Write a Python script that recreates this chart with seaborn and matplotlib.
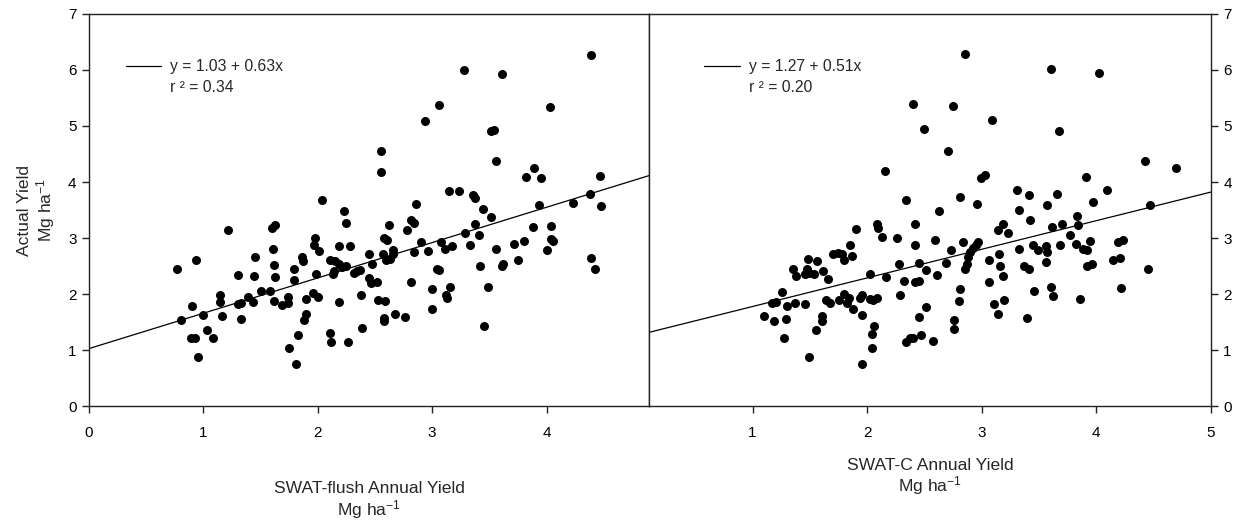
import numpy as np
import pandas as pd
import matplotlib
matplotlib.use("Agg")
import matplotlib.pyplot as plt
import seaborn as sns
from matplotlib.lines import Line2D

# ---------------- data ----------------
flush_x = [0.769, 0.804, 0.932, 0.900, 0.894, 0.926, 0.952, 1.001, 1.033, 1.083,
           1.147, 1.147, 1.161, 1.219, 1.300, 1.300, 1.329, 1.332, 1.393, 1.431,
           1.440, 1.451, 1.504, 1.579, 1.597, 1.626, 1.611, 1.620, 1.628, 1.620,
           1.684, 1.736, 1.742, 1.747, 1.794, 1.788, 1.829, 1.808, 1.866, 1.875,
           1.893, 1.898, 1.884, 1.977, 1.968, 2.009, 1.988, 1.956, 2.000, 2.035,
           2.104, 2.148, 2.183, 2.212, 2.250, 2.134, 2.139, 2.107, 2.116, 2.186,
           2.186, 2.229, 2.250, 2.284, 2.264, 2.320, 2.345, 2.370, 2.377, 2.389,
           2.447, 2.470, 2.450, 2.464, 2.517, 2.528,
           2.557, 2.557, 2.592, 2.575, 2.583, 2.572, 2.595, 2.633, 2.583, 2.604,
           2.621, 2.656, 2.662, 2.673, 2.766, 2.784, 2.813, 2.845, 2.813, 2.839,
           2.862, 2.903, 2.935, 2.961, 2.996, 2.996, 3.042, 3.059, 3.062, 3.074,
           3.109, 3.121, 3.126, 3.149, 3.152, 3.176, 3.231, 3.280, 3.283, 3.332,
           3.359, 3.373, 3.373, 3.411, 3.422, 3.443, 3.451, 3.492, 3.513, 3.518,
           3.544, 3.562, 3.562, 3.611, 3.614, 3.622, 3.713, 3.750, 3.800, 3.820,
           3.881, 3.887, 3.930, 3.951, 4.000, 4.029, 4.038, 4.038, 4.055, 4.229,
           4.377, 4.389, 4.389, 4.427, 4.467, 4.476]
flush_y = [2.457, 1.539, 2.611, 1.788, 1.226, 1.226, 0.888, 1.628, 1.356, 1.214,
           1.989, 1.859, 1.616, 3.144, 2.339, 1.829, 1.835, 1.563, 1.954, 1.853,
           2.327, 2.670, 2.054, 2.054, 3.185, 3.239, 2.812, 2.528, 2.303, 1.877,
           1.800, 1.954, 1.835, 1.048, 2.451, 2.250, 1.279, 0.758, 2.664, 2.593,
           1.918, 1.640, 1.539, 3.002, 2.872, 2.765, 2.356, 2.013, 1.954, 3.677,
           2.611, 2.593, 2.545, 2.486, 2.504, 2.351, 2.422, 1.303, 1.155, 2.858,
           1.859, 3.475, 3.262, 2.860, 1.143, 2.380, 2.410, 2.430, 1.989, 1.391,
           2.718, 2.540, 2.297, 2.202, 2.214, 1.901,
           4.553, 4.186, 1.883, 1.570, 1.530, 2.712, 2.605, 2.635, 3.008, 2.972,
           3.227, 2.795, 2.723, 1.646, 1.587, 3.138, 3.327, 3.268, 2.220, 2.752,
           3.612, 2.931, 5.092, 2.771, 2.090, 1.735, 2.451, 2.433, 5.370, 2.931,
           2.806, 1.983, 1.936, 3.848, 2.131, 2.866, 3.848, 5.992, 3.097, 2.871,
           3.771, 3.718, 3.244, 3.049, 2.499, 3.511, 1.439, 2.120, 3.381, 4.908,
           4.920, 4.369, 2.800, 5.932, 2.504, 2.546, 2.889, 2.611, 2.954, 4.085,
           3.191, 4.245, 3.594, 4.079, 2.795, 5.346, 3.221, 2.984, 2.943, 3.629,
           3.783, 6.264, 2.652, 2.445, 4.115, 3.576]

swatc_x = [2.398, 2.497, 2.156, 2.340,
           2.855, 3.606, 4.025, 2.753, 3.094, 3.676, 2.707, 2.995, 3.030, 3.915,
           4.427, 4.695, 2.814, 2.957, 3.306, 3.414, 3.656, 3.574, 4.095, 3.973,
           4.474, 2.625, 3.324,
           1.903, 2.086, 2.095, 2.127, 2.258, 2.416, 2.418, 1.848, 1.865, 1.706,
           1.743, 1.778, 1.798, 1.484, 1.565, 1.356, 1.376, 1.472, 1.492, 1.539,
           1.460, 1.618, 1.656, 1.254, 1.167, 1.202, 1.300, 1.368, 1.455, 1.100,
           1.190, 1.289, 1.277, 1.495, 1.557, 1.609, 1.606, 1.638, 1.676, 1.757,
           1.801, 1.842, 1.822, 1.877, 1.938, 1.953, 1.955, 1.955, 2.025, 2.025,
           2.054, 2.089, 2.058, 2.046, 2.046, 2.165, 2.276, 2.325, 2.285, 2.418,
           2.456, 2.456, 2.514, 2.512, 2.456, 2.340, 2.375, 2.404, 2.471, 2.575,
           2.596, 2.613, 2.686, 2.730, 2.835, 2.855, 2.875, 2.878, 2.899, 2.922,
           2.948, 2.969, 2.814, 2.800, 2.756, 2.756, 3.067, 3.149, 3.163, 3.187,
           3.067, 3.146, 3.187, 3.228, 3.108, 3.198, 3.146, 3.327, 3.423, 3.370,
           3.414, 3.394, 3.455, 3.446, 3.490, 3.565, 3.574, 3.565, 3.609, 3.626,
           3.618, 3.700, 3.685, 3.772, 3.830, 3.839, 3.822, 3.883, 3.921, 3.944,
           3.857, 3.923, 3.967, 4.145, 4.206, 4.191, 4.238, 4.215, 4.453]
swatc_y = [5.389, 4.937, 4.198, 3.675,
           6.282, 6.009, 5.948, 5.359, 5.098, 4.913, 4.562, 4.080, 4.121, 4.086,
           4.383, 4.252, 3.734, 3.616, 3.859, 3.770, 3.788, 3.598, 3.859, 3.639,
           3.586, 3.490, 3.510,
           3.157, 3.244, 3.180, 3.014, 3.009, 3.259, 2.871, 2.884, 2.675, 2.716,
           2.741, 2.723, 2.604, 2.621, 2.591, 2.443, 2.323, 2.455, 2.377, 2.354,
           2.366, 2.413, 2.277, 2.045, 1.842, 1.854, 1.782, 1.848, 1.818, 1.604,
           1.527, 1.556, 1.217, 0.877, 1.354, 1.616, 1.527, 1.889, 1.848, 1.901,
           1.996, 1.937, 1.842, 1.735, 1.937, 1.979, 1.627, 0.746, 2.366, 1.919,
           1.889, 1.937, 1.425, 1.282, 1.038, 2.300, 2.538, 2.241, 1.984, 2.216,
           2.229, 2.556, 2.425, 1.777, 1.592, 1.145, 1.217, 1.211, 1.264, 1.157,
           2.961, 2.348, 2.562, 2.782, 2.925, 2.443, 2.532, 2.663, 2.752, 2.830,
           2.884, 2.925, 2.086, 1.871, 1.532, 1.384, 2.616, 2.723, 2.502, 2.330,
           2.223, 3.139, 3.259, 3.098, 1.818, 1.889, 1.639, 2.800, 3.318, 2.496,
           2.455, 1.580, 2.050, 2.884, 2.782, 2.859, 2.752, 2.574, 2.127, 1.966,
           3.198, 3.246, 2.871, 3.050, 3.389, 3.229, 2.902, 2.813, 2.795, 2.948,
           1.919, 2.509, 2.545, 2.604, 2.652, 2.930, 2.973, 2.109, 2.448]

fit_intercept = [1.03, 1.27]
fit_slope = [0.63, 0.51]
fit_r2 = ["0.34", "0.20"]
x_titles = ["SWAT-flush Annual Yield", "SWAT-C Annual Yield"]
y_title = "Actual Yield"
unit_label = "Mg ha$^{-1}$"
left_xticks = [0, 1, 2, 3, 4]
right_xticks = [1, 2, 3, 4, 5]
y_ticks = [0, 1, 2, 3, 4, 5, 6, 7]

df_flush = pd.DataFrame({"sim": flush_x, "obs": flush_y})
df_swatc = pd.DataFrame({"sim": swatc_x, "obs": swatc_y})

# ---------------- style ----------------
sns.set_theme(style="ticks")
plt.rcParams["font.family"] = ["Liberation Sans", "DejaVu Sans"]
plt.rcParams["mathtext.fontset"] = "custom"
plt.rcParams["mathtext.rm"] = "Liberation Sans"
plt.rcParams["mathtext.it"] = "Liberation Sans:italic"
plt.rcParams["mathtext.default"] = "regular"

FS = 11        # tick labels
LFS = 11.3     # legend text
AFS = 12.6     # axis titles
SPC = "#222222"

fig = plt.figure(figsize=(12.43, 5.23), dpi=100)
ax1 = fig.add_axes([0.0716, 0.2231, 0.4509, 0.7505])
ax2 = fig.add_axes([0.5225, 0.2231, 0.4515, 0.7505])

panels = [(ax1, df_flush, (0, 4.9), left_xticks, 0.0655, 30),
          (ax2, df_swatc, (0.1, 5.0), right_xticks, 0.0977, 13)]

for i, (ax, df, xl, xt, legx, lpad) in enumerate(panels):
    sns.scatterplot(data=df, x="sim", y="obs", ax=ax, color="black", s=42,
                    linewidth=0, zorder=3)
    ax.axline((0, fit_intercept[i]), slope=fit_slope[i], color="black",
              lw=0.9, zorder=2)
    ax.set_xlim(*xl)
    ax.set_ylim(0, 7)
    ax.set_xticks(xt)
    ax.set_yticks(y_ticks)
    for sp in ax.spines.values():
        sp.set_visible(True)
        sp.set_color(SPC)
        sp.set_linewidth(1.0)
    ax.tick_params(axis="x", length=5, width=1, pad=9, labelsize=FS, colors=SPC,
                   labelcolor="black")
    ax.tick_params(axis="y", length=5, width=1, pad=4, labelsize=FS, colors=SPC,
                   labelcolor="black")
    ax.set_xlabel(x_titles[i] + "\n" + unit_label, fontsize=AFS, labelpad=lpad,
                  linespacing=1.1)
    handles = [Line2D([], [], color="black", lw=0.9),
               Line2D([], [], color="none", lw=0)]
    labels = ["y = %.2f + %.2fx" % (fit_intercept[i], fit_slope[i]),
              "r \u00b2 = " + fit_r2[i]]
    ax.legend(handles, labels, loc="upper left", bbox_to_anchor=(legx, 0.884),
              frameon=False, borderpad=0, borderaxespad=0, handlelength=2.25,
              handletextpad=0.6, labelspacing=0.38, fontsize=LFS)

ax1.set_ylabel(y_title + "\n" + unit_label, fontsize=AFS, labelpad=8,
               linespacing=1.1)
ax2.set_ylabel("")
ax2.yaxis.tick_right()

fig.savefig("out.png", dpi=100)
